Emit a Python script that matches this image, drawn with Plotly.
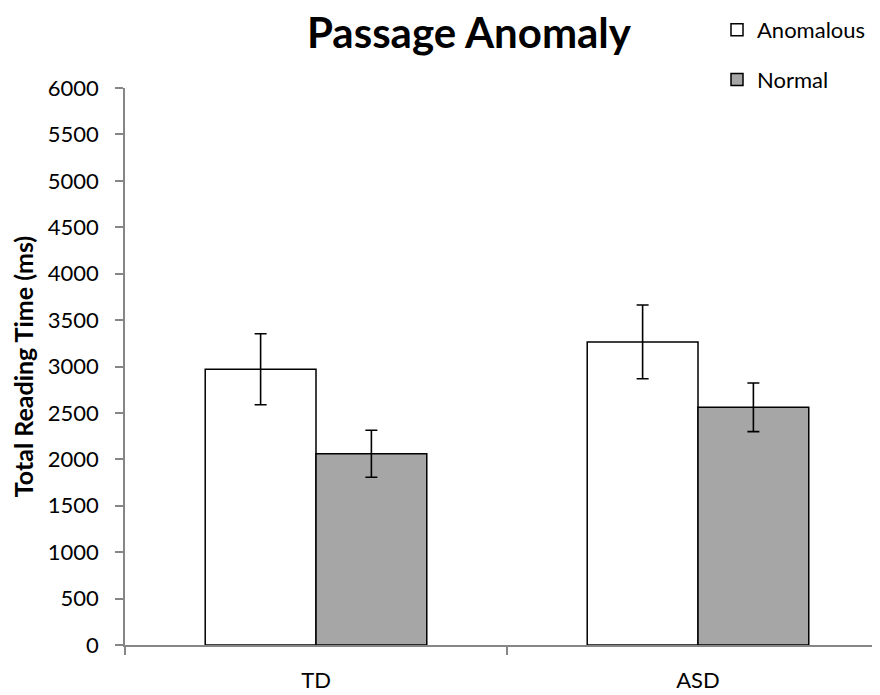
import plotly.graph_objects as go

groups = ["TD", "ASD"]
anomalous = [2970, 3265]
anomalous_err = [382, 397]
normal = [2060, 2560]
normal_err = [253, 262]
y_ticks = list(range(0, 6001, 500))

# the page body has an 8px margin, so the figure is sized to fit the 880x695 window
OFF = 8
W, H = 880 - OFF, 695 - OFF
L, R, T, B = 125 - OFF, 0, 88 - OFF, 695 - 645
font = "Lato, 'Open Sans', sans-serif"

fig = go.Figure()
fig.add_trace(go.Bar(
    x=groups, y=anomalous, name="Anomalous",
    marker=dict(color="white", line=dict(color="black", width=1.5)),
    error_y=dict(type="data", array=anomalous_err, color="black", thickness=1.6, width=6),
    legendgroup="a",
))
fig.add_trace(go.Bar(
    x=groups, y=normal, name="Normal",
    marker=dict(color="#a6a6a6", line=dict(color="black", width=1.5)),
    error_y=dict(type="data", array=normal_err, color="black", thickness=1.6, width=6),
    legendgroup="b",
))

plot_w = W - L - R
cat_px = 382
x_hi = -0.5 + plot_w / cat_px

fig.update_layout(
    width=W, height=H,
    margin=dict(l=L, r=R, t=T, b=B, autoexpand=False),
    paper_bgcolor="white", plot_bgcolor="white",
    font=dict(family=font, size=22, color="black"),
    barmode="group", bargap=0.42, bargroupgap=0,
    title=dict(text="<b>Passage Anomaly</b>", font=dict(size=42, family=font, color="black"),
               x=(469 - OFF) / W, xanchor="center", y=1 - (33 - OFF) / H, yanchor="middle",
               yref="container"),
    legend=dict(x=(717 - 125) / plot_w, y=1 - 1 / H, xanchor="left", yanchor="top",
                xref="paper", yref="container",
                font=dict(size=22, family=font), tracegroupgap=18,
                itemwidth=30, bgcolor="rgba(0,0,0,0)"),
    showlegend=True,
)
fig.update_xaxes(
    type="category", range=[-0.5, x_hi],
    showline=True, linecolor="#868686", linewidth=1.5,
    ticks="outside", tickson="boundaries", ticklen=8, tickcolor="#868686", tickwidth=1.5,
    showgrid=False, zeroline=False,
    tickfont=dict(size=22, family=font), ticklabelstandoff=15,
)
fig.update_yaxes(
    range=[0, 6000], tickvals=y_ticks,
    showline=True, linecolor="#868686", linewidth=1.5,
    ticks="outside", ticklen=8, tickcolor="#868686", tickwidth=1.5,
    showgrid=False, zeroline=False,
    tickfont=dict(size=22, family=font), ticklabelstandoff=12,
    title=dict(text="<b>Total Reading Time (ms)</b>", font=dict(size=25, family=font), standoff=7),
)

fig.write_html("out.html")
